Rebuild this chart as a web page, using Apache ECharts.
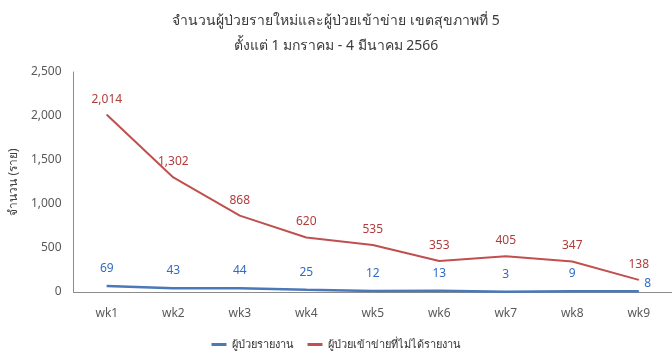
<!DOCTYPE html>
<html>
<head>
<meta charset="utf-8">
<script src="https://cdn.jsdelivr.net/npm/echarts@6/dist/echarts.min.js"></script>
<style>
  html, body { margin: 0; padding: 0; background: #fff; }
  #chart { width: 672px; height: 358px; }
</style>
</head>
<body>
<div id="chart"></div>
<script>
// Weekly patient counts, Health Region 5
const weeks = ['wk1', 'wk2', 'wk3', 'wk4', 'wk5', 'wk6', 'wk7', 'wk8', 'wk9'];
const reported = [69, 43, 44, 25, 12, 13, 3, 9, 8];
const unreported = [2014, 1302, 868, 620, 535, 353, 405, 347, 138];
const seriesNames = ['ผู้ป่วยรายงาน', 'ผู้ป่วยเข้าข่ายที่ไม่ได้รายงาน'];
const titleLines = ['จำนวนผู้ป่วยรายใหม่และผู้ป่วยเข้าข่าย เขตสุขภาพที่ 5', 'ตั้งแต่ 1 มกราคม - 4 มีนาคม 2566'];
const yTicks = { min: 0, max: 2500, interval: 500 };

const FONT = '"Noto Sans", sans-serif';
const fmt = v => Number(v).toLocaleString('en-US');

const chart = echarts.init(document.getElementById('chart'));
chart.setOption({
  animation: false,
  backgroundColor: '#ffffff',
  textStyle: { fontFamily: FONT },
  title: {
    text: titleLines.join('\n'),
    left: 'center',
    top: 4,
    textStyle: { fontSize: 14, fontWeight: 'normal', color: '#3a3a3a', lineHeight: 25, fontFamily: FONT }
  },
  legend: {
    bottom: 3,
    left: 'center',
    itemWidth: 15,
    itemHeight: 3,
    itemGap: 14,
    icon: 'rect',
    textStyle: { fontSize: 11, color: '#333333', fontFamily: FONT },
    data: seriesNames
  },
  grid: { left: 69, right: -3, top: 72, bottom: 66, containLabel: false },
  xAxis: {
    type: 'category',
    data: weeks,
    boundaryGap: true,
    axisLine: { lineStyle: { color: '#8c8c8c', width: 1 } },
    axisTick: { show: false },
    axisLabel: { color: '#595959', fontSize: 12, margin: 16, fontFamily: FONT }
  },
  yAxis: {
    type: 'value',
    min: yTicks.min,
    max: yTicks.max,
    interval: yTicks.interval,
    name: 'จำนวน (ราย)',
    nameLocation: 'middle',
    nameRotate: 90,
    nameGap: 52,
    nameTextStyle: { color: '#404040', fontSize: 12, fontFamily: FONT },
    axisLine: { show: true, lineStyle: { color: '#8c8c8c', width: 1 } },
    axisTick: { show: false },
    splitLine: { show: false },
    axisLabel: { color: '#595959', fontSize: 12, margin: 12, formatter: fmt, fontFamily: FONT }
  },
  series: [
    {
      name: seriesNames[0],
      type: 'line',
      data: reported.map((v, i) => i === reported.length - 1
        ? { value: v, label: { position: 'right', distance: 5, offset: [0, -8] } }
        : v),
      symbol: 'circle',
      symbolSize: 1,
      showSymbol: true,
      lineStyle: { color: '#4a78b8', width: 2.5 },
      itemStyle: { color: '#4a78b8' },
      label: {
        show: true,
        position: 'top',
        distance: 11,
        color: '#2f6cc4',
        fontSize: 12,
        formatter: p => fmt(p.value),
        fontFamily: FONT
      },
      z: 3
    },
    {
      name: seriesNames[1],
      type: 'line',
      data: unreported,
      symbol: 'circle',
      symbolSize: 1,
      showSymbol: true,
      lineStyle: { color: '#c0504d', width: 2 },
      itemStyle: { color: '#c0504d' },
      label: {
        show: true,
        position: 'top',
        distance: 9,
        color: '#b03c3c',
        fontSize: 12,
        formatter: p => fmt(p.value),
        fontFamily: FONT
      },
      z: 2
    }
  ]
});
</script>
</body>
</html>
